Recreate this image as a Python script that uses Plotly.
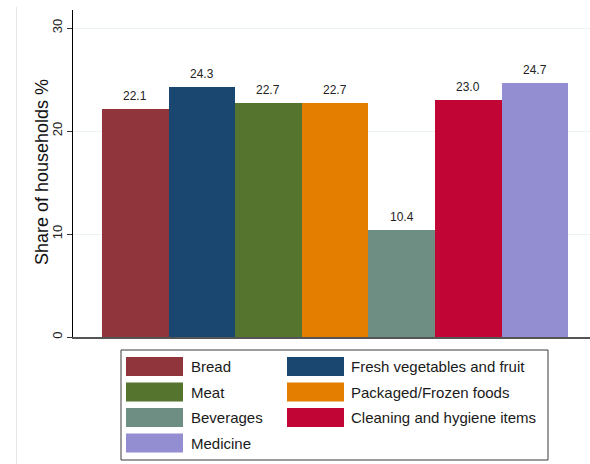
import plotly.graph_objects as go

categories = ["Bread", "Fresh vegetables and fruit", "Meat", "Packaged/Frozen foods",
              "Beverages", "Cleaning and hygiene items", "Medicine"]
values = [22.1, 24.3, 22.7, 22.7, 10.4, 23.0, 24.7]
colors = ["#90353b", "#1a476f", "#55752f", "#e37e00", "#6e8e84", "#c10534", "#938dd2"]
y_ticks = [0, 10, 20, 30]

W, H = 590, 464
L, R, T, B = 73, 0, 10, 127
pw, ph = W - L - R, H - T - B

def px_x(x):
    return (x - L) / pw

def px_y(y):
    return (H - B - y) / ph

font = "Liberation Sans, Arial, sans-serif"

xs = list(range(len(categories)))
fig = go.Figure()
fig.add_trace(go.Bar(
    x=xs, y=values,
    marker=dict(color=colors, line=dict(width=0)),
    showlegend=False, width=1.0, hovertext=categories,
))

shapes = []
annotations = []
# value labels
for x, v in zip(xs, values):
    annotations.append(dict(x=x, y=v, xref="x", yref="y", text=f"{v:.1f}",
                            showarrow=False, yanchor="bottom", yshift=4,
                            font=dict(size=12, color="#222222", family=font)))
# y-axis title
annotations.append(dict(xref="paper", yref="paper", x=px_x(42), y=px_y(172),
                        text="Share of households %", textangle=-90, showarrow=False,
                        xanchor="center", yanchor="middle",
                        font=dict(size=18, color="#111111", family=font)))
# outer faint border line
shapes.append(dict(type="line", xref="paper", yref="paper",
                   x0=px_x(16.5), x1=px_x(16.5), y0=px_y(7), y1=px_y(470),
                   line=dict(color="#e6e6e6", width=1)))
# legend box
shapes.append(dict(type="rect", xref="paper", yref="paper",
                   x0=px_x(121), x1=px_x(548), y0=px_y(350), y1=px_y(460),
                   line=dict(color="#3a3a3a", width=1), fillcolor="white"))
col_sw = [126, 287]
col_tx = [189, 349]
row0, dy = 366.5, 25.5
for i, (name, c) in enumerate(zip(categories, colors)):
    r, col = divmod(i, 2)
    cy = row0 + r * dy
    shapes.append(dict(type="rect", xref="paper", yref="paper",
                       x0=px_x(col_sw[col]), x1=px_x(col_sw[col] + 57),
                       y0=px_y(cy - 9.5), y1=px_y(cy + 9.5),
                       line=dict(width=0), fillcolor=c))
    annotations.append(dict(xref="paper", yref="paper", x=px_x(col_tx[col]), y=px_y(cy),
                            text=name, showarrow=False, xanchor="left", yanchor="middle",
                            font=dict(size=15, color="#1a1a1a", family=font)))

fig.update_layout(
    width=W, height=H,
    margin=dict(l=L, r=R, t=T, b=B, pad=0),
    paper_bgcolor="white", plot_bgcolor="white",
    bargap=0,
    shapes=shapes, annotations=annotations,
    xaxis=dict(range=[-0.935, 6.827], showticklabels=False, ticks="",
               showgrid=False, zeroline=False, showline=True,
               linecolor="#555555", linewidth=2, fixedrange=True),
    yaxis=dict(range=[0, 31.75], tickvals=y_ticks, ticks="outside", ticklen=5,
               tickcolor="#333333", tickwidth=1, tickangle=-90,
               tickfont=dict(size=13, color="#222222", family=font),
               showgrid=True, gridcolor="#eaf2f3", gridwidth=1,
               zeroline=False, showline=True, linecolor="#000000", linewidth=1),
    showlegend=False,
)

fig.write_html("out.html")
